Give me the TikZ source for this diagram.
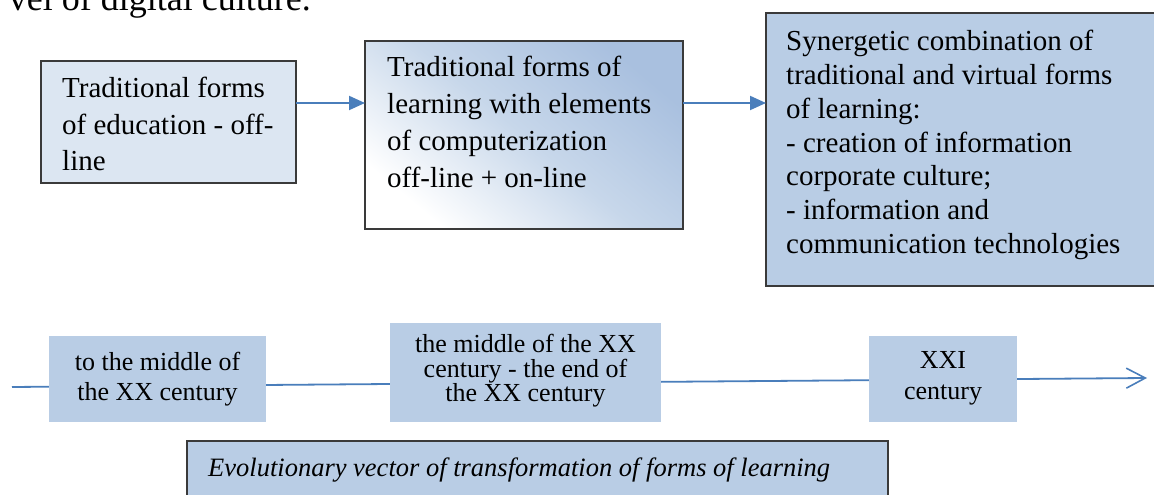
\documentclass[tikz,border=0pt]{standalone}
\usepackage{fontspec}
\setmainfont{Liberation Serif}
\usetikzlibrary{arrows.meta}
\definecolor{lightbox}{HTML}{DCE6F2}
\definecolor{midbox}{HTML}{B9CDE5}
\definecolor{deepbox}{HTML}{A9C0DF}
\definecolor{arrowblue}{HTML}{4A7EBB}
\definecolor{edgegray}{HTML}{3A3A3A}
\begin{document}
\begin{tikzpicture}[x=1pt,y=1pt,
  framed/.style={draw=edgegray, line width=1.2pt, anchor=north west, inner sep=0pt, outer sep=0pt},
  plainbox/.style={fill=midbox, anchor=north west, inner sep=0pt, outer sep=0pt},
  txt/.style={anchor=base west, inner sep=0pt},
  ctxt/.style={anchor=base, inner sep=0pt},
  flow/.style={draw=arrowblue, line width=2pt, -{Triangle[length=16pt,width=14pt]}},
  timeline/.style={draw=arrowblue, line width=1.8pt, -{Straight Barb[length=19pt,width=20pt,line width=1.6pt]}}
]
\useasboundingbox (0,0) rectangle (1154,495);
\clip (0,0) rectangle (1154,495);
\lineskiplimit=-20pt
% partial body text at the top (cut by the upper edge, as in the reference)
\node[inner sep=0pt, anchor=base east, font=\fontsize{36pt}{40pt}\selectfont] (toptext) at (311,484) {vel of digital culture.};
% top row
\node[framed, fill=lightbox, minimum width=255pt, minimum height=122pt] (b1) at (41,434) {};
\node[txt] (t1) at (62,397) {\parbox[t]{230pt}{\raggedright\fontsize{29pt}{36.3pt}\selectfont Traditional forms\\of education - off-\\line}};
\node[framed, top color=deepbox, bottom color=white, middle color=midbox!80!white, shading angle=-40, minimum width=318pt, minimum height=188pt] (b2) at (365,454) {};
\node[txt] (t2) at (387,418) {\parbox[t]{290pt}{\raggedright\fontsize{29pt}{36.7pt}\selectfont Traditional forms of\\learning with elements\\of computerization\\off-line + on-line}};
\node[framed, fill=midbox, minimum width=400pt, minimum height=273pt] (b3) at (766,482) {};
\node[txt] (t3) at (786,444) {\parbox[t]{360pt}{\raggedright\fontsize{29pt}{33.7pt}\selectfont Synergetic combination of\\traditional and virtual forms\\of learning:\\- creation of information\\corporate culture;\\- information and\\communication technologies}};
\draw[flow] ([yshift=19pt]b1.east) -- ([yshift=19pt]b1.east -| b2.west);
\draw[flow] ([yshift=32pt]b2.east) -- ([yshift=32pt]b2.east -| b3.west);
% time line
\coordinate (ts) at (12,108);
\coordinate (te) at (1147,117);
\draw[timeline] (ts) -- (te);
\node[plainbox, minimum width=217pt, minimum height=86pt] (p1) at (49,159) {};
\node[ctxt] (q1) at (157.5,124) {\parbox[t]{210pt}{\centering\fontsize{26pt}{30pt}\selectfont to the middle of\\the XX century}};
\node[plainbox, minimum width=271pt, minimum height=99pt] (p2) at (390,172) {};
\node[ctxt] (q2) at (525.5,142) {\parbox[t]{265pt}{\centering\fontsize{26pt}{24.5pt}\selectfont the middle of the XX\\century - the end of\\the XX century}};
\node[plainbox, minimum width=148pt, minimum height=86pt] (p3) at (869,159) {};
\node[ctxt] (q3) at (943,126) {\parbox[t]{140pt}{\centering\fontsize{26pt}{31pt}\selectfont XXI\\century}};
% caption box
\node[framed, fill=midbox, minimum width=701pt, minimum height=80pt] (p4) at (187,54) {};
\node[txt] (q4) at (208,18) {\fontsize{26.5pt}{30pt}\selectfont\itshape Evolutionary vector of transformation of forms of learning};
\end{tikzpicture}
\end{document}
